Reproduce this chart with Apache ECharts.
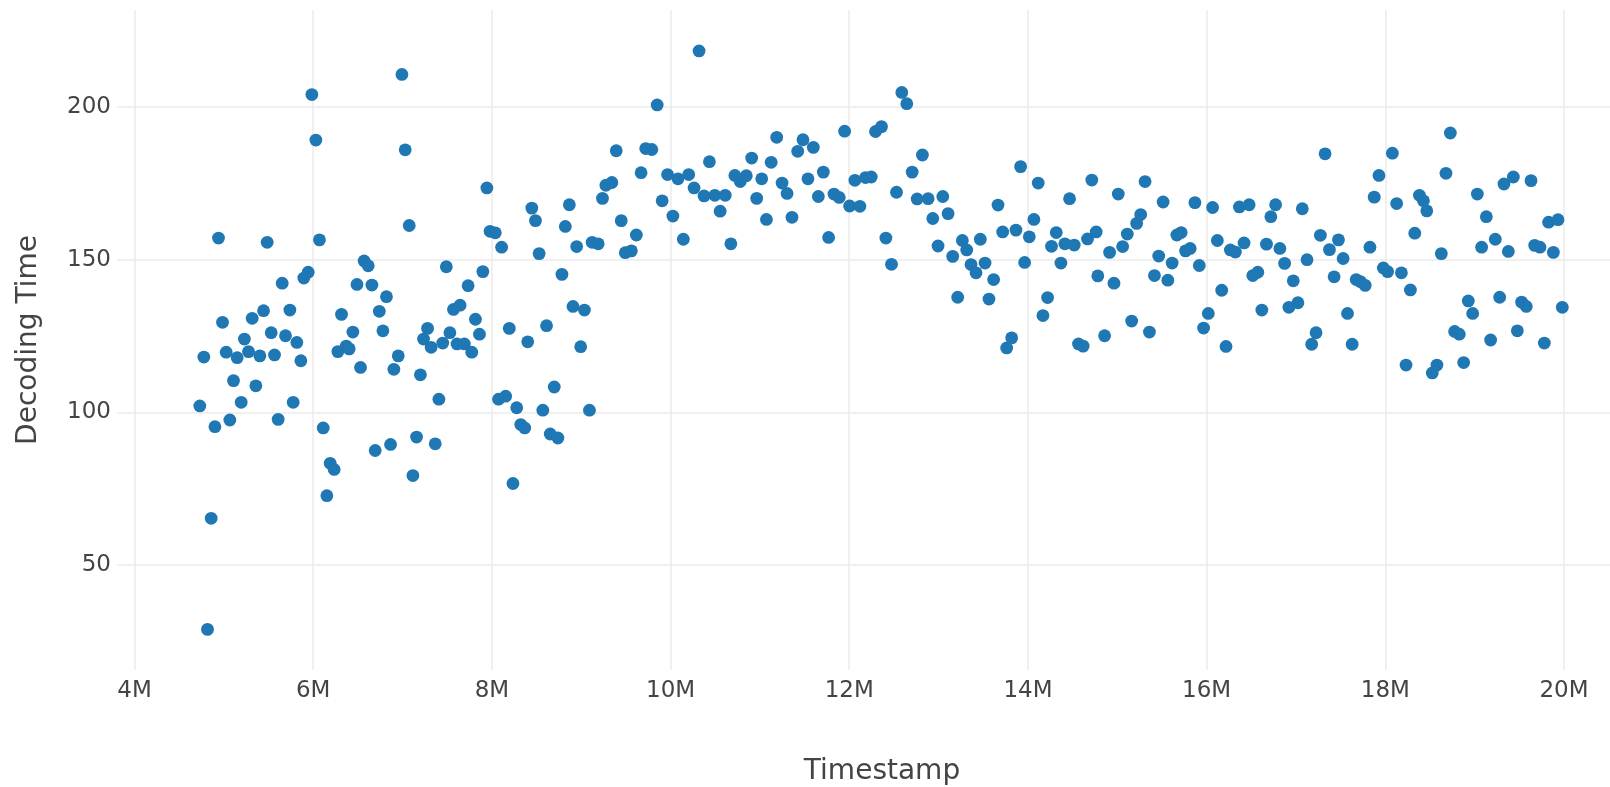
<!DOCTYPE html>
<html>
<head>
<meta charset="utf-8">
<script src="https://cdn.jsdelivr.net/npm/echarts@6/dist/echarts.min.js"></script>
<style>
html,body{margin:0;padding:0;background:#fff;}
#chart{width:1610px;height:787px;}
</style>
</head>
<body>
<div id="chart"></div>
<script>
// Timestamp in millions
const timestampM = [
6.993,5.985,6.03,7.03,7.075,4.94,5.485,6.07,6.57,6.616,7.49,5.653,5.944,5.895,6.49,6.657,6.82,5.444,5.739,5.317,6.317,6.74,7.57,4.985,5.23,5.53,5.69,5.817,6.444,6.78,7.28,7.235,7.32,7.45,7.53,7.61,4.776,5.026,5.149,5.276,5.403,5.567,5.862,6.276,6.37,6.403,6.53,6.952,6.903,7.2,5.108,5.358,7.407,4.731,5.194,5.776,4.9,5.067,5.608,6.112,6.694,6.866,7.157,7.366,6.19,6.235,7.116,6.153,4.858,4.817,
7.644,7.692,7.734,7.816,7.861,7.775,7.899,7.944,7.98,8.038,8.109,8.075,8.154,8.195,8.278,8.323,8.368,8.236,8.401,8.447,8.488,8.529,8.57,8.612,8.653,8.739,8.698,8.784,8.822,8.867,8.908,8.949,8.994,9.036,9.092,9.122,9.19,9.238,9.276,9.343,9.392,9.448,9.493,9.561,9.617,9.67,9.722,9.79,9.85,9.906,9.966,10.026,10.083,10.143,10.203,10.263,10.319,10.375,10.435,10.495,10.555,10.612,10.675,10.72,10.78,10.848,10.908,10.964,11.02,11.073,11.126,
11.188,11.248,11.304,11.359,11.423,11.482,11.538,11.598,11.654,11.71,11.769,11.829,11.888,11.948,12.004,12.063,12.119,12.182,12.246,12.294,12.361,12.41,12.473,12.529,12.588,12.644,12.704,12.76,12.819,12.883,12.935,12.994,13.047,13.106,13.158,13.214,13.266,13.315,13.363,13.419,13.467,13.52,13.564,13.616,13.665,13.717,13.762,13.818,13.866,13.918,13.963,14.015,14.067,14.115,14.168,14.22,14.264,14.317,14.369,14.413,14.466,14.518,14.566,14.618,14.667,14.715,14.764,14.782,
14.858,14.914,14.963,15.011,15.06,15.112,15.161,15.217,15.262,15.311,15.36,15.416,15.464,15.513,15.566,15.614,15.667,15.715,15.764,15.816,15.869,15.918,15.966,16.019,16.067,16.12,16.169,16.217,16.266,16.322,16.367,16.419,16.476,16.517,16.573,16.618,16.67,16.719,16.772,16.82,16.873,16.921,16.97,17.022,17.071,17.124,17.176,17.225,17.273,17.326,17.375,17.427,17.476,17.528,17.577,17.629,17.674,17.723,17.775,17.828,17.876,17.929,17.978,18.026,18.079,18.127,18.18,18.232,18.281,18.33,18.382,18.427,18.464,
18.526,18.578,18.627,18.679,18.728,18.776,18.828,18.877,18.929,18.978,19.03,19.078,19.131,19.179,19.231,19.28,19.328,19.377,19.433,19.478,19.526,19.578,19.631,19.672,19.731,19.78,19.828,19.881,19.933,19.981
];
const decodingTime = [
210.7,204.1,189.2,186,161.2,157.1,155.7,156.5,149.6,148,147.7,142.3,145.9,144,141.9,141.7,137.9,133.3,133.5,130.8,132.1,133.1,133.7,129.5,124,126.1,125.1,122.9,126.3,126.7,127.5,124,121.3,122.7,126.1,122.4,118.1,119.7,117.9,119.9,118.5,118.8,116.9,119.9,121.7,120.8,114.7,118.5,114.1,112.3,110.4,108.7,104.3,102.1,103.3,103.3,95.3,97.5,97.7,94.9,87.5,89.5,91.9,89.7,83.3,81.3,79.3,72.7,65.3,28.9,
135.1,122.4,141.5,130.5,125.6,119.7,146.1,173.5,159.3,158.8,154.1,104.3,105.3,127.5,101.5,96,94.9,76.7,123.1,166.9,162.8,152,100.7,128.4,92.9,91.6,108.3,145.2,160.9,168,134.7,154.3,121.5,133.5,100.7,155.7,155.2,170.1,174.4,175.3,185.7,162.8,152.3,152.9,158.1,178.5,186.4,186.1,200.7,169.3,177.9,164.3,176.5,156.7,177.9,173.5,218.4,170.9,182.1,171.1,165.9,171.1,155.2,177.6,175.6,177.5,183.3,170.1,176.5,163.2,181.9,
190.1,175.1,171.7,163.9,185.5,189.3,176.5,186.8,170.7,178.7,157.3,171.5,170.4,192.1,167.6,176,167.5,176.9,177.1,192,193.6,157.1,148.5,172.1,204.8,201.1,178.7,169.9,184.3,170,163.5,154.5,170.7,165.1,151.1,137.7,156.3,153.2,148.4,145.7,156.7,148.9,137.1,143.5,167.9,159.1,121.1,124.4,159.7,180.5,149.1,157.5,163.2,175.1,131.7,137.6,154.4,158.9,148.9,155.2,170,154.8,122.4,121.7,156.8,176.1,159.1,144.7,
125.1,152.4,142.3,171.5,154.3,158.4,129.9,161.9,164.8,175.6,126.3,144.8,151.2,168.9,143.3,148.9,158.1,158.9,152.9,153.7,168.7,148.1,127.6,132.4,167.1,156.3,140,121.6,153.2,152.5,167.3,155.5,168,144.8,145.9,133.5,155.1,164.1,168,153.7,148.8,134.4,143.1,135.9,166.7,150,122.3,126.1,158,184.7,153.3,144.4,156.5,150.4,132.4,122.3,143.5,142.8,141.6,154.1,170.5,177.6,147.3,146.1,184.9,168.4,145.7,115.5,140.1,158.7,171.1,169.3,166,
112.9,115.5,152,178.3,191.5,126.5,125.6,116.3,136.5,132.4,171.5,154.1,164.1,123.7,156.7,137.7,174.8,152.7,177.1,126.7,136.1,134.7,175.9,154.7,154.1,122.7,162.3,152.4,163.1,134.4
];
const xTitle = 'Timestamp';
const yTitle = 'Decoding Time';

const points = timestampM.map((x, i) => [x, decodingTime[i]]);
const FONT = '"DejaVu Sans", Verdana, sans-serif';
const TXT = '#444';
const GRID = '#ebebeb';

const chart = echarts.init(document.getElementById('chart'), null, {renderer: 'canvas'});
chart.setOption({
  animation: false,
  backgroundColor: '#fff',
  grid: {left: 117, right: 0, top: 10, bottom: 117, containLabel: false},
  xAxis: {
    type: 'value',
    min: 3.804, max: 20.515,
    minInterval: 2, maxInterval: 2, splitNumber: 8,
    axisLine: {show: false}, axisTick: {show: false},
    splitLine: {show: true, showMinLine: false, showMaxLine: false, lineStyle: {color: GRID, width: 1.5}},
    axisLabel: {
      showMinLabel: false, showMaxLabel: false,
      color: TXT, fontFamily: FONT, fontSize: 23, margin: 10,
      formatter: v => v + 'M'
    }
  },
  yAxis: {
    type: 'value',
    min: 15.6, max: 231.8,
    minInterval: 50, maxInterval: 50, splitNumber: 4,
    axisLine: {show: false}, axisTick: {show: false},
    splitLine: {show: true, showMinLine: false, showMaxLine: false, lineStyle: {color: GRID, width: 1.5}},
    axisLabel: {
      showMinLabel: false, showMaxLabel: false,
      color: TXT, fontFamily: FONT, fontSize: 23, margin: 6
    }
  },
  graphic: [
    {type: 'text', x: 882, y: 772, style: {text: xTitle, fill: TXT, font: '28px ' + FONT, textAlign: 'center', textVerticalAlign: 'middle'}},
    {type: 'text', x: 29, y: 340, rotation: Math.PI / 2, style: {text: yTitle, fill: TXT, font: '28px ' + FONT, textAlign: 'center', textVerticalAlign: 'middle'}}
  ],
  series: [{
    type: 'scatter',
    data: points,
    symbolSize: 12.8,
    itemStyle: {color: '#1f77b4', opacity: 1},
    clip: false
  }]
});
</script>
</body>
</html>
